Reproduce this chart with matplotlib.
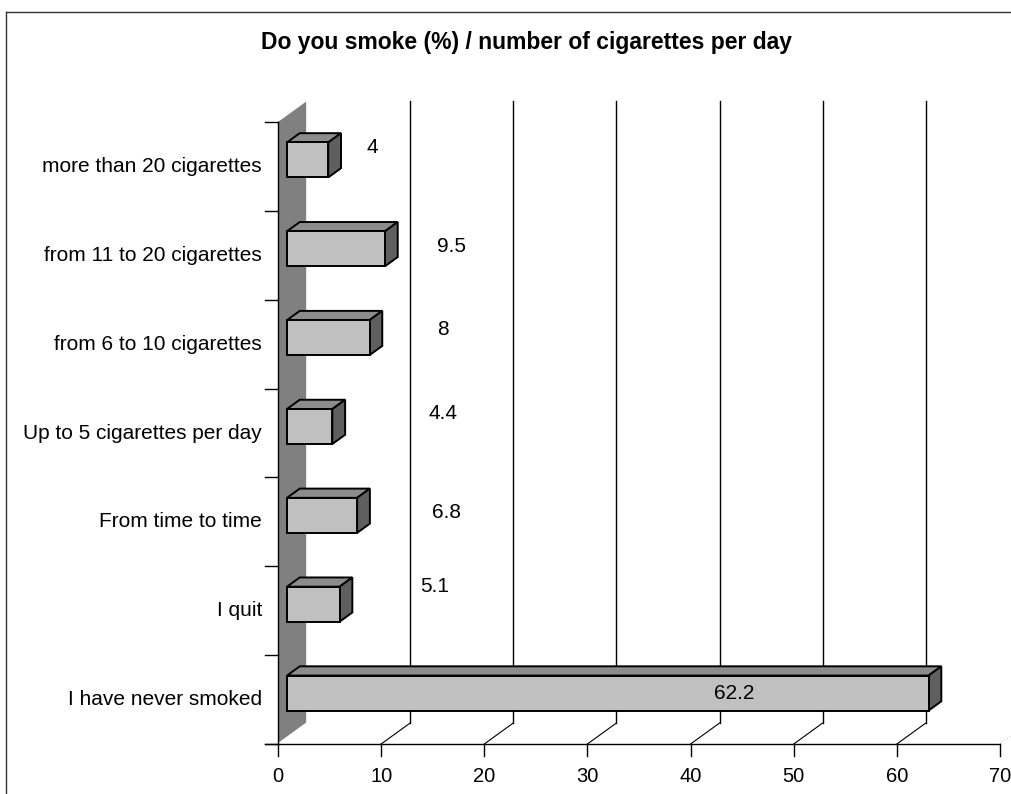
import matplotlib
matplotlib.use('Agg')
from matplotlib import pyplot as plt
from matplotlib.lines import Line2D
import numpy as np

plt.rcParams['font.family'] = ['Liberation Sans', 'DejaVu Sans']

categories = ['I have never smoked', 'I quit', 'From time to time',
              'Up to 5 cigarettes per day', 'from 6 to 10 cigarettes',
              'from 11 to 20 cigarettes', 'more than 20 cigarettes']
values = [62.2, 5.1, 6.8, 4.4, 8, 9.5, 4]
value_text = ['62.2', '5.1', '6.8', '4.4', '8', '9.5', '4']
x_ticks = [0, 10, 20, 30, 40, 50, 60, 70]

# where the value labels sit (x in data units, y shift from slot centre)
label_x = [44.2, 15.2, 16.3, 16.0, 16.0, 16.8, 9.1]
label_dy = [0.07, 0.27, 0.10, 0.22, 0.16, 0.10, 0.21]

W, H = 1012, 794
fig = plt.figure(figsize=(W / 100, H / 100), dpi=100)
ax = fig.add_axes([0, 0, 1, 1])
ax.axis('off')

# front plane: value 0 at px 278, 70 at px 1000; categories 0..7 from y=744 up to y=122
ux = 70 / 722.0
uy = 7 / 622.0
ax.set_xlim(-278 * ux, 70 + 12 * ux)
ax.set_ylim(-50 * uy, 7 + 122 * uy)

DX = 29 * ux     # depth offset of the back plane
DY = 21 * uy
z0, z1 = 0.31, 0.75   # bar depth range
h = 0.394             # bar thickness
n = len(categories)

# side wall
ax.fill([0, 0, DX, DX], [0, n, n + DY, DY], color='#808080', lw=0, zorder=1)
ax.plot([DX, DX], [DY, n + DY], color='white', lw=1.2, zorder=2)
ax.plot([0, DX], [0, DY], color='white', lw=1.2, zorder=2)

# back grid lines and floor diagonals
for v in x_ticks[1:-1]:
    ax.plot([v + DX, v + DX], [DY, n + DY], color='black', lw=1.0, zorder=2)
    ax.plot([v, v + DX], [0, DY], color='black', lw=0.8, zorder=2)
ax.plot([70, 70 + DX], [0, DY], color='#cccccc', lw=0.8, ls=':', zorder=2)

# axes
ax.plot([0, 0], [0, n], color='black', lw=1.0, zorder=3)
ax.plot([-13 * ux, 70], [0, 0], color='black', lw=1.0, zorder=3)
for i in range(n + 1):
    ax.plot([-13 * ux, 0], [i, i], color='black', lw=1.0, zorder=3)
for v in x_ticks:
    ax.plot([v, v], [0, -12 * uy], color='black', lw=1.0, zorder=3)
    ax.text(v, -32 * uy, str(v), ha='center', va='center', fontsize=14.5)

for i, lab in enumerate(categories):
    ax.text(-16 * ux, i + 0.5, lab, ha='right', va='center', fontsize=15)

# 3d bars
ddx = (z1 - z0) * DX
ddy = (z1 - z0) * DY
for i, v in enumerate(values):
    x0 = z0 * DX
    x1 = v + z0 * DX
    yb = i + 0.5 - h / 2 + z0 * DY
    yt = i + 0.5 + h / 2 + z0 * DY
    ax.fill([x0, x1, x1 + ddx, x0 + ddx], [yt, yt, yt + ddy, yt + ddy],
            facecolor='#8c8c8c', edgecolor='black', lw=1.4, zorder=5)
    ax.fill([x1, x1, x1 + ddx, x1 + ddx], [yb, yt, yt + ddy, yb + ddy],
            facecolor='#5f5f5f', edgecolor='black', lw=1.4, zorder=5)
    ax.fill([x0, x1, x1, x0], [yb, yb, yt, yt],
            facecolor='#c0c0c0', edgecolor='black', lw=1.4, zorder=6)
    ax.text(label_x[i], i + 0.5 + label_dy[i], value_text[i],
            ha='center', va='center', fontsize=15, zorder=7)

fig.text(527 / W, 1 - 42 / H, 'Do you smoke (%) / number of cigarettes per day',
         ha='center', va='center', fontsize=16.5, fontweight='bold')

# chart frame (top and left edges only are visible)
fig.add_artist(Line2D([6 / W, 6 / W], [0, 1 - 12 / H], color='#333333', lw=1.0))
fig.add_artist(Line2D([6 / W, 1], [1 - 12 / H, 1 - 12 / H], color='#333333', lw=1.0))

plt.savefig('out.png', dpi=100)
